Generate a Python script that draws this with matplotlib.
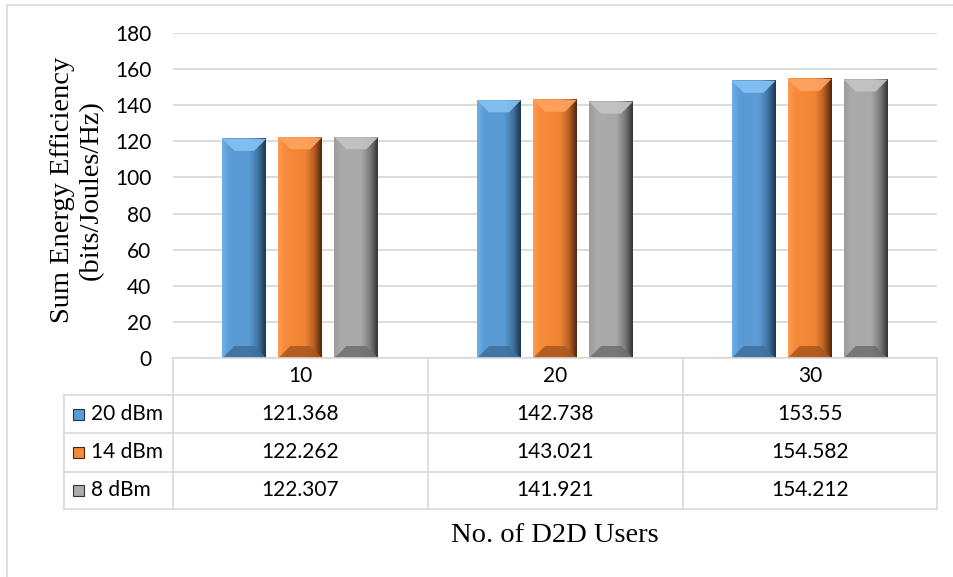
import numpy as np
import matplotlib
matplotlib.use("Agg")
import matplotlib.pyplot as plt
from matplotlib.colors import LinearSegmentedColormap
from matplotlib.patches import Polygon, Rectangle
from matplotlib.lines import Line2D

# === Data === #
users = ["10", "20", "30"]
series = ["20 dBm", "14 dBm", "8 dBm"]
ee_20dbm = [121.368, 142.738, 153.55]
ee_14dbm = [122.262, 143.021, 154.582]
ee_8dbm = [122.307, 141.921, 154.212]
values = [ee_20dbm, ee_14dbm, ee_8dbm]
value_text = [["121.368", "142.738", "153.55"],
              ["122.262", "143.021", "154.582"],
              ["122.307", "141.921", "154.212"]]

# light, base, base, dark, darkest (left -> right shading of a bar)
shades = [
    ["#6fb0ea", "#5b9bd5", "#5b9bd5", "#3f73a3", "#1d3550"],
    ["#ff9a4f", "#f58a3a", "#f28534", "#b85f22", "#4e250b"],
    ["#9c9c9c", "#ababab", "#a9a9a9", "#7b7b7b", "#333333"],
]
tops = ["#86c2f2", "#ffa461", "#c4c4c4"]
bottoms = ["#3f6f9c", "#a9561d", "#6e6e6e"]

W, H = 954, 577
fig = plt.figure(figsize=(W / 100, H / 100), dpi=100)

def fx(px):
    return px / W

def fy(py):
    return 1 - py / H

num_font = "Lato"
serif_font = "Liberation Serif"
grid_col = "#d9d9d9"

# outer frame
fig.patches.append(Rectangle((fx(7), fy(600)), fx(960) - fx(7), fy(5) - fy(600),
                             transform=fig.transFigure, fill=False,
                             edgecolor=grid_col, lw=1.2))

# plot area
left, right, top, bottom = 173, 937, 33, 358
ax = fig.add_axes([fx(left), fy(bottom), (right - left) / W, (bottom - top) / H])

x = np.arange(len(users))
offsets = [-0.22, 0.0, 0.22]
bar_w = 0.172
dx = 1 / 255.0            # data units per pixel (x)
dy = 180 / 325.0          # data units per pixel (y)
bev = 12

for s in range(len(series)):
    cmap = LinearSegmentedColormap.from_list(
        "c%d" % s, list(zip([0, 0.18, 0.62, 0.82, 1.0], shades[s])))
    for i in range(len(users)):
        h = values[s][i]
        x0 = x[i] + offsets[s] - bar_w / 2
        x1 = x0 + bar_w
        grad = np.linspace(0, 1, 256).reshape(1, -1)
        ax.imshow(grad, extent=(x0, x1, 0, h), aspect="auto", cmap=cmap,
                  interpolation="bilinear", zorder=3)
        bx, by = bev * dx, bev * dy
        ax.add_patch(Polygon([(x0, h), (x1, h), (x1 - bx, h - by), (x0 + bx, h - by)],
                             closed=True, facecolor=tops[s], edgecolor="none",
                             alpha=0.9, zorder=4))
        ax.add_patch(Polygon([(x0, 0), (x1, 0), (x1 - bx, by), (x0 + bx, by)],
                             closed=True, facecolor=bottoms[s], edgecolor="none",
                             alpha=0.85, zorder=4))

ax.set_xlim(-0.5, 2.5)
ax.set_ylim(0, 180)
ax.set_yticks(range(0, 181, 20))
ax.set_xticks([])
ax.yaxis.grid(True, color=grid_col, lw=1.3)
ax.set_axisbelow(True)
for sp in ax.spines.values():
    sp.set_visible(False)
ax.tick_params(axis="y", length=0, pad=15.5, labelsize=15, labelcolor="#000000")
for lab in ax.get_yticklabels():
    lab.set_fontfamily(num_font)

# === Data table under the plot === #
col_x = [173, 428, 683, 937]
row_y = [358, 395, 433, 472, 509]
leg_x = 64

def hline(y, xa, xb):
    fig.add_artist(Line2D([fx(xa), fx(xb)], [fy(y), fy(y)], transform=fig.transFigure,
                          color=grid_col, lw=1.2))

def vline(xv, ya, yb):
    fig.add_artist(Line2D([fx(xv), fx(xv)], [fy(ya), fy(yb)], transform=fig.transFigure,
                          color=grid_col, lw=1.2))

hline(row_y[0], col_x[0], col_x[-1])
for y in row_y[1:]:
    hline(y, leg_x, col_x[-1])
vline(leg_x, row_y[1], row_y[-1])
for xv in col_x:
    vline(xv, row_y[0], row_y[-1])

for i, u in enumerate(users):
    cx = (col_x[i] + col_x[i + 1]) / 2
    fig.text(fx(cx), fy((row_y[0] + row_y[1]) / 2), u, ha="center", va="center",
             fontsize=15, family=num_font)
    for s in range(len(series)):
        cy = (row_y[s + 1] + row_y[s + 2]) / 2
        fig.text(fx(cx), fy(cy), value_text[s][i], ha="center", va="center",
                 fontsize=15, family=num_font)

for s, name in enumerate(series):
    cy = (row_y[s + 1] + row_y[s + 2]) / 2
    fig.patches.append(Rectangle((fx(73), fy(cy + 5.5)), 11 / W, 11 / H,
                                 transform=fig.transFigure, facecolor=shades[s][1],
                                 edgecolor=shades[s][4], lw=0.8))
    fig.text(fx(91), fy(cy), name, ha="left", va="center", fontsize=15, family=num_font)

# axis titles
fig.text(fx(77), fy(190), "Sum Energy Efficiency\n(bits/Joules/Hz)", rotation=90,
         ha="center", va="center", ma="center", fontsize=20.5, family=serif_font)
fig.text(fx(555), fy(535), "No. of D2D Users", ha="center", va="center",
         fontsize=20.5, family=serif_font)

fig.savefig("out.png", dpi=100)
